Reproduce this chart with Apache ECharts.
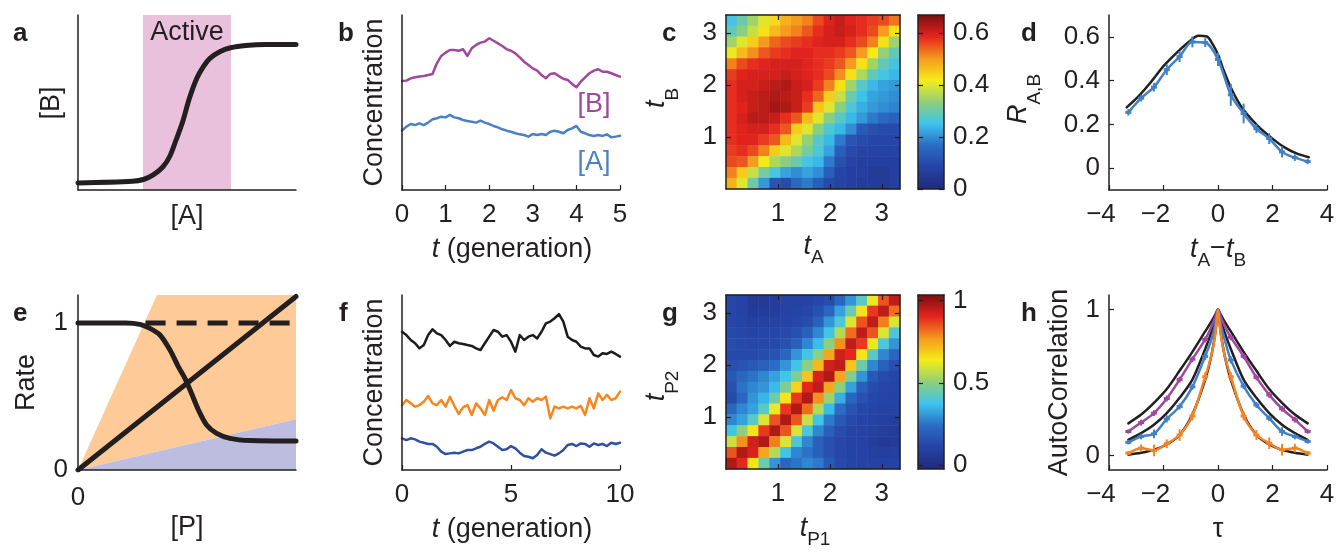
<!DOCTYPE html>
<html>
<head>
<meta charset="utf-8">
<script src="https://cdn.jsdelivr.net/npm/echarts@6/dist/echarts.min.js"></script>
<style>
  html, body { margin: 0; padding: 0; background: #fff; }
  #chart { width: 1338px; height: 554px; }
</style>
</head>
<body>
<div id="chart"></div>
<script>
// ---- panel a: dose response ----
const aX = [0, 0.25, 0.30, 0.345, 0.39, 0.42, 0.45, 0.48, 0.51, 0.545, 0.575, 0.605, 0.65, 0.70, 0.77, 0.86, 1.0];
const aY = [0.04, 0.05, 0.06, 0.086, 0.133, 0.19, 0.286, 0.39, 0.52, 0.638, 0.705, 0.752, 0.79, 0.813, 0.826, 0.832, 0.832];
const activeRange = [0.298, 0.702];

// ---- panel b: traces of A and B ----
const bT = [0,0.1,0.2,0.3,0.4,0.5,0.6,0.7,0.8,0.9,1,1.1,1.2,1.3,1.4,1.5,1.6,1.7,1.8,1.9,2,2.1,2.2,2.3,2.4,2.5,2.6,2.7,2.8,2.9,3,3.1,3.2,3.3,3.4,3.5,3.6,3.7,3.8,3.9,4,4.1,4.2,4.3,4.4,4.5,4.6,4.7,4.8,4.9,5];
const bB = [6.23,6.25,6.38,6.44,6.48,6.51,6.57,6.63,7.24,7.66,7.85,8.0,8.0,7.96,8.04,7.66,8.10,8.29,8.42,8.48,8.67,8.53,8.38,8.23,8.04,7.96,7.81,7.58,7.33,7.14,6.95,6.82,6.57,6.38,6.63,6.67,6.51,6.36,6.29,6.06,5.87,6.19,6.44,6.67,6.82,6.90,6.76,6.76,6.67,6.57,6.48];
const bA = [3.39,3.62,3.77,3.71,3.81,3.71,3.85,4.04,4.10,4.19,4.15,4.29,4.15,4.10,4.0,3.94,3.90,3.85,3.96,3.85,3.77,3.66,3.58,3.47,3.39,3.33,3.24,3.18,3.14,3.05,3.20,3.14,3.20,3.14,3.33,3.39,3.33,3.24,3.43,3.52,3.66,3.33,3.24,3.14,3.09,3.14,3.09,3.18,3.01,3.05,3.10];

// ---- panel c: cross-correlation map (rows listed from top to bottom) ----
const cScale = [0, 0.67];
const cTicks = [0, 0.2, 0.4, 0.6];
const cRows = [
  [0.26,0.30,0.35,0.40,0.44,0.48,0.50,0.52,0.56,0.59,0.61,0.59,0.58,0.57,0.56,0.53],
  [0.29,0.33,0.38,0.43,0.47,0.50,0.52,0.55,0.58,0.60,0.61,0.60,0.58,0.56,0.50,0.43],
  [0.35,0.40,0.45,0.50,0.54,0.56,0.57,0.58,0.59,0.60,0.60,0.58,0.56,0.52,0.43,0.35],
  [0.41,0.47,0.51,0.55,0.57,0.58,0.59,0.59,0.58,0.58,0.57,0.55,0.50,0.42,0.34,0.29],
  [0.52,0.56,0.58,0.59,0.60,0.60,0.60,0.59,0.58,0.57,0.55,0.50,0.43,0.35,0.29,0.26],
  [0.57,0.59,0.60,0.60,0.60,0.61,0.60,0.59,0.58,0.56,0.51,0.43,0.36,0.29,0.26,0.24],
  [0.58,0.60,0.60,0.61,0.62,0.63,0.61,0.60,0.57,0.52,0.43,0.35,0.28,0.24,0.22,0.21],
  [0.58,0.60,0.61,0.62,0.63,0.62,0.61,0.58,0.54,0.45,0.38,0.30,0.25,0.22,0.21,0.20],
  [0.58,0.59,0.61,0.62,0.64,0.63,0.61,0.57,0.46,0.40,0.33,0.27,0.23,0.21,0.20,0.19],
  [0.58,0.60,0.62,0.62,0.61,0.58,0.55,0.47,0.40,0.33,0.28,0.24,0.21,0.18,0.16,0.15],
  [0.58,0.59,0.60,0.60,0.58,0.55,0.45,0.40,0.33,0.27,0.24,0.20,0.13,0.11,0.10,0.10],
  [0.58,0.59,0.59,0.57,0.55,0.47,0.40,0.34,0.28,0.24,0.18,0.12,0.10,0.09,0.09,0.09],
  [0.57,0.58,0.56,0.52,0.45,0.40,0.36,0.31,0.27,0.22,0.14,0.10,0.08,0.08,0.08,0.08],
  [0.56,0.55,0.50,0.42,0.36,0.33,0.30,0.26,0.24,0.18,0.11,0.08,0.07,0.07,0.07,0.07],
  [0.52,0.45,0.38,0.31,0.26,0.22,0.20,0.22,0.20,0.14,0.09,0.07,0.07,0.06,0.06,0.07],
  [0.48,0.40,0.30,0.21,0.12,0.10,0.16,0.18,0.14,0.10,0.08,0.07,0.06,0.06,0.06,0.07]
];

// ---- panel d: R_A,B vs lag ----
const dBlackX = [-3.35,-2.92,-2.49,-2.0,-1.51,-1.02,-0.72,-0.41,-0.23,0,0.2,0.45,0.7,0.94,1.43,1.92,2.41,2.9,3.33];
const dBlackY = [0.278,0.328,0.389,0.466,0.528,0.582,0.605,0.602,0.574,0.52,0.45,0.374,0.312,0.266,0.197,0.143,0.097,0.066,0.05];
const dX = [-3.29,-2.82,-2.35,-1.88,-1.41,-0.94,-0.47,0,0.47,0.94,1.41,1.88,2.35,2.82,3.29];
const dBlue = [0.255,0.32,0.37,0.45,0.51,0.577,0.574,0.497,0.335,0.25,0.18,0.135,0.074,0.048,0.03];
const dErr = [0.015,0.015,0.02,0.025,0.025,0.025,0.02,0.03,0.05,0.045,0.02,0.025,0.025,0.015,0.012];

// ---- panel e: rates ----
const eOrange = [[0, 0], [0.362, 1.19], [1, 1.19], [1, 0.345]];
const ePurple = [[0, 0], [1, 0.345], [1, 0]];
const eSigX = [0, 0.22, 0.284, 0.33, 0.376, 0.422, 0.46, 0.49, 0.521, 0.552, 0.59, 0.636, 0.697, 0.789, 1.0];
const eSigY = [1.0, 1.0, 0.99, 0.963, 0.918, 0.816, 0.703, 0.625, 0.52, 0.41, 0.306, 0.249, 0.215, 0.2, 0.197];
const eLineX = [0, 1];
const eLineY = [0, 1.18];
const eDashX = [0.31, 1];
const eDashY = [1, 1];

// ---- panel f: three traces ----
const fT = [0,0.2,0.4,0.6,0.8,1,1.2,1.4,1.6,1.8,2,2.2,2.4,2.6,2.8,3,3.2,3.4,3.6,3.8,4,4.2,4.4,4.6,4.8,5,5.2,5.4,5.6,5.8,6,6.2,6.4,6.6,6.8,7,7.2,7.4,7.6,7.8,8,8.2,8.4,8.6,8.8,9,9.2,9.4,9.6,9.8,10];
const fBlack = [7.90,7.71,7.43,7.24,6.95,7.14,7.71,8.04,7.81,7.71,7.43,7.09,7.33,7.24,7.20,7.14,7.09,6.95,6.86,7.24,7.62,8.0,7.90,7.62,7.71,7.33,6.76,7.71,7.43,7.62,7.71,7.52,7.90,8.38,8.48,8.67,8.91,8.48,7.62,7.43,7.33,7.05,6.95,6.95,6.57,6.48,6.67,6.63,6.76,6.63,6.48];
const fOrange = [3.71,4.0,3.81,3.62,3.71,3.90,4.23,3.81,3.71,4.0,3.62,4.19,3.66,3.20,3.58,3.71,3.14,3.81,3.52,3.14,4.0,3.39,4.0,4.15,4.0,4.57,4.10,4.0,3.71,4.10,3.90,4.10,4.0,4.19,2.95,3.62,3.52,3.62,3.52,3.62,3.52,3.66,3.14,4.10,3.52,4.38,4.0,4.29,4.0,4.10,4.48];
const fBlue = [1.81,1.71,1.81,1.75,1.62,1.56,1.49,1.49,1.33,1.05,0.91,0.95,0.99,0.95,1.05,1.14,1.14,1.24,1.33,1.49,1.62,1.52,1.33,1.14,1.18,1.37,1.24,0.99,0.80,0.76,0.67,0.86,1.18,0.99,0.91,0.82,0.95,1.14,1.43,1.49,1.37,1.52,1.49,1.33,1.52,1.43,1.49,1.37,1.56,1.49,1.56];

// ---- panel g: autocorrelation map (rows listed from top to bottom) ----
const gScale = [-0.025, 1.035];
const gTicks = [0, 0.5, 1];
const gRows = [
  [0.12,0.10,0.06,0.06,0.08,0.10,0.10,0.10,0.12,0.14,0.22,0.30,0.42,0.62,0.85,0.95],
  [0.12,0.10,0.07,0.07,0.08,0.10,0.11,0.12,0.15,0.22,0.32,0.45,0.65,0.88,0.95,0.82],
  [0.12,0.11,0.09,0.09,0.10,0.11,0.12,0.14,0.20,0.30,0.40,0.60,0.85,0.95,0.80,0.60],
  [0.13,0.12,0.11,0.11,0.12,0.13,0.15,0.20,0.28,0.38,0.55,0.82,0.95,0.85,0.60,0.40],
  [0.14,0.13,0.12,0.12,0.13,0.15,0.20,0.28,0.36,0.50,0.78,0.95,0.88,0.62,0.40,0.30],
  [0.13,0.13,0.13,0.14,0.16,0.22,0.30,0.38,0.50,0.75,0.93,0.90,0.65,0.42,0.28,0.22],
  [0.15,0.16,0.18,0.20,0.24,0.30,0.38,0.50,0.72,0.93,0.95,0.70,0.45,0.28,0.20,0.15],
  [0.18,0.22,0.25,0.28,0.32,0.38,0.48,0.70,0.92,0.97,0.75,0.48,0.30,0.18,0.14,0.12],
  [0.15,0.25,0.28,0.30,0.36,0.48,0.68,0.90,0.95,0.75,0.50,0.32,0.20,0.14,0.12,0.11],
  [0.13,0.22,0.30,0.35,0.45,0.65,0.88,0.97,0.78,0.52,0.34,0.22,0.15,0.12,0.11,0.11],
  [0.22,0.28,0.32,0.42,0.62,0.88,0.97,0.82,0.55,0.36,0.24,0.16,0.12,0.11,0.10,0.10],
  [0.28,0.32,0.42,0.60,0.85,0.97,0.85,0.58,0.38,0.26,0.18,0.13,0.11,0.10,0.09,0.08],
  [0.38,0.50,0.65,0.88,0.97,0.85,0.60,0.40,0.28,0.20,0.14,0.11,0.10,0.09,0.08,0.07],
  [0.58,0.78,0.93,0.97,0.80,0.60,0.40,0.28,0.20,0.15,0.12,0.10,0.10,0.08,0.06,0.07],
  [0.85,0.97,0.92,0.75,0.55,0.38,0.28,0.25,0.20,0.15,0.12,0.10,0.10,0.09,0.08,0.09],
  [0.97,0.90,0.65,0.45,0.30,0.22,0.25,0.28,0.26,0.18,0.13,0.11,0.10,0.10,0.10,0.10]
];
const mapTicks = [1, 2, 3];
const mapMax = 3.35;

// ---- panel h: autocorrelations ----
const hX = [-3.29,-2.82,-2.35,-1.88,-1.41,-0.94,-0.47,-0.25,-0.1,0,0.1,0.25,0.47,0.94,1.41,1.88,2.35,2.82,3.29];
const hBlackSlow = [0.22,0.28,0.36,0.455,0.58,0.71,0.85,0.915,0.965,1,0.965,0.915,0.85,0.71,0.58,0.455,0.36,0.28,0.22];
const hBlackMid = [0.107,0.153,0.21,0.29,0.395,0.52,0.73,0.84,0.93,1,0.93,0.84,0.73,0.52,0.395,0.29,0.21,0.153,0.107];
const hBlackFast = [0.005,0.018,0.038,0.075,0.14,0.28,0.52,0.68,0.84,1,0.84,0.68,0.52,0.28,0.14,0.075,0.038,0.018,0.005];
const hMagenta = [0.164,0.225,0.29,0.39,0.52,0.66,0.795,0.88,0.95,1,0.95,0.885,0.81,0.68,0.535,0.415,0.32,0.245,0.164];
const hBlue = [0.09,0.13,0.148,0.25,0.335,0.47,0.68,0.79,0.9,1,0.9,0.79,0.655,0.475,0.346,0.255,0.164,0.13,0.096];
const hOrange = [0.016,0.05,0.034,0.08,0.14,0.27,0.54,0.68,0.83,1,0.83,0.68,0.54,0.27,0.14,0.084,0.039,0.05,0.016];
const hMagErr = [0.015,0.02,0.02,0.02,0.02,0.02,0.02,null,null,null,null,null,0.02,0.02,0.02,0.02,0.02,0.02,0.015];
const hBlueErr = [0.015,0.02,0.03,0.025,0.02,0.02,0.025,null,null,null,null,null,0.025,0.02,0.02,0.02,0.03,0.02,0.015];
const hOrangeErr = [0.015,0.025,0.04,0.03,0.04,0.03,0.03,null,null,null,null,null,0.03,0.03,0.035,0.04,0.04,0.03,0.015];

// ---- styling ----
const INK = '#231f20';
const FONT = '"Liberation Sans", Arial, Helvetica, sans-serif';
const TICK_FS = 26, TITLE_FS = 27, SUB_FS = 19;
const PURPLE = '#a0479e', BLUE_A = '#4a80c6', BLUE = '#4281c6', ORANGE = '#f58426', NAVY = '#2f4fa2';
const jet = ['#1f2a7a', '#2543a6', '#2b6cc4', '#3cc4ee', '#8fcf7a', '#f6ec17', '#f59a1e', '#e6241e', '#7a1010'];

const grids = [], xAxes = [], yAxes = [], series = [], texts = [];
const zip = (xs, ys) => xs.map((x, i) => [x, ys[i]]);

function addGrid(left, top, width, height) {
  grids.push({ left, top, width, height, containLabel: false });
  return grids.length - 1;
}
function valueAxis(gridIndex, min, max, o) {
  o = o || {};
  const ax = {
    type: 'value', gridIndex, min, max, z: 5,
    splitLine: { show: false },
    axisLine: { show: true, onZero: false, lineStyle: { color: INK, width: 1.5 } },
    axisTick: { show: !!o.ticks, inside: true, length: 5, lineStyle: { color: INK, width: 1.2 } },
    axisLabel: { show: !!o.labels, margin: o.margin == null ? 10 : o.margin, color: INK, fontSize: TICK_FS, fontFamily: FONT }
  };
  if (o.interval != null) ax.interval = o.interval;
  if (o.position) ax.position = o.position;
  if (Array.isArray(o.ticks)) ax.axisTick.customValues = o.ticks;
  if (Array.isArray(o.labels)) ax.axisLabel.customValues = o.labels;
  if (o.formatter) { ax.axisLabel.formatter = o.formatter; ax.axisLabel.rich = o.rich; }
  return ax;
}
function addX(ax) { xAxes.push(ax); return xAxes.length - 1; }
function addY(ax) { yAxes.push(ax); return yAxes.length - 1; }
function addSeries(s) { series.push(s); return series.length - 1; }

function line(xi, yi, xs, ys, color, width, extra) {
  return Object.assign({
    type: 'line', xAxisIndex: xi, yAxisIndex: yi, data: zip(xs, ys), symbol: 'none', silent: true, z: 3,
    lineStyle: { color, width, cap: 'round', join: 'round' }
  }, extra || {});
}
function errorBars(xi, yi, xs, ys, errs, color) {
  const data = [];
  xs.forEach((x, i) => { if (errs[i] != null) data.push([x, ys[i] - errs[i], ys[i] + errs[i], ys[i]]); });
  return {
    type: 'custom', xAxisIndex: xi, yAxisIndex: yi, data, silent: true, z: 4, encode: { x: 0, y: [1, 2] },
    renderItem: (params, api) => {
      const x = api.value(0);
      const lo = api.coord([x, api.value(1)]), hi = api.coord([x, api.value(2)]), mid = api.coord([x, api.value(3)]);
      return { type: 'group', children: [
        { type: 'line', shape: { x1: lo[0], y1: lo[1], x2: hi[0], y2: hi[1] }, style: { stroke: color, lineWidth: 2 } },
        { type: 'line', shape: { x1: mid[0] - 3, y1: mid[1], x2: mid[0] + 3, y2: mid[1] }, style: { stroke: color, lineWidth: 3 } }
      ] };
    }
  };
}
function region(xi, yi, pts, color) {
  return {
    type: 'custom', xAxisIndex: xi, yAxisIndex: yi, data: [pts[0]], silent: true, z: 1,
    renderItem: (params, api) => ({ type: 'polygon', shape: { points: pts.map(p => api.coord(p)) }, style: { fill: color } })
  };
}
function colorbar(xi, yi, range) {
  return {
    type: 'custom', xAxisIndex: xi, yAxisIndex: yi, data: [[0.5, range[0], range[1]]], silent: true, z: 1,
    encode: { x: 0, y: [1, 2] },
    renderItem: (params, api) => {
      const cs = params.coordSys;
      const top = api.coord([0.5, api.value(2)])[1], bottom = api.coord([0.5, api.value(1)])[1];
      return { type: 'rect', shape: { x: cs.x, y: top, width: cs.width, height: bottom - top },
        style: { fill: new echarts.graphic.LinearGradient(0, 1, 0, 0, jet.map((c, i) => ({ offset: i / (jet.length - 1), color: c }))) } };
    }
  };
}
function heatData(rows) {
  const out = [];
  rows.forEach((row, r) => row.forEach((v, c) => out.push([c, rows.length - 1 - r, v])));
  return out;
}
const minusFmt = v => v < 0 ? '{neg|\u2212' + (-v) + '}' : String(v);
const minusRich = { neg: { fontSize: TICK_FS, fontFamily: FONT, color: INK, padding: [0, 16, 0, 0] } };

// subscript drop is set by the line height of the subscript token
function richStyles(subLine) {
  return {
    i: { fontSize: TITLE_FS, fontFamily: FONT, fontStyle: 'italic', fill: INK, verticalAlign: 'top' },
    n: { fontSize: TITLE_FS, fontFamily: FONT, fill: INK, verticalAlign: 'top' },
    s: { fontSize: SUB_FS, fontFamily: FONT, fill: INK, lineHeight: subLine, verticalAlign: 'bottom' }
  };
}
function text(x, y, str, o) {
  o = o || {};
  texts.push({
    type: 'text', x, y, rotation: o.rot ? Math.PI / 2 : 0, silent: true, z: 10,
    style: {
      text: str, fill: o.color || INK, fontSize: o.size || TITLE_FS, fontFamily: FONT, fontWeight: o.bold ? 'bold' : 'normal',
      align: o.align || 'center', verticalAlign: 'middle', textAlign: o.align || 'center', textVerticalAlign: 'middle',
      rich: o.sub ? richStyles(o.sub) : undefined
    }
  });
}
function mapPanel(top, rows, scale, cbTicks) {
  const g = addGrid(726, top, 174, 174);
  const cells = rows[0].map((_, i) => String(i));
  const cx = addX({ type: 'category', gridIndex: g, data: cells, show: false, position: 'bottom' });
  const cy = addY({ type: 'category', gridIndex: g, data: cells, show: false, position: 'left' });
  addX(valueAxis(g, 0, mapMax, { position: 'bottom', ticks: mapTicks, labels: mapTicks, margin: 12 }));
  addX(valueAxis(g, 0, mapMax, { position: 'top', ticks: mapTicks }));
  addY(valueAxis(g, 0, mapMax, { position: 'left', ticks: mapTicks, labels: mapTicks, margin: 9 }));
  addY(valueAxis(g, 0, mapMax, { position: 'right', ticks: mapTicks }));
  const hi = addSeries({ type: 'heatmap', xAxisIndex: cx, yAxisIndex: cy, data: heatData(rows), silent: true, z: 1 });
  const cb = addGrid(918, top, 26, 174);
  const bx = addX(valueAxis(cb, 0, 1, { position: 'bottom' }));
  addX(valueAxis(cb, 0, 1, { position: 'top' }));
  addY(valueAxis(cb, scale[0], scale[1], { position: 'left', ticks: cbTicks }));
  const by = addY(valueAxis(cb, scale[0], scale[1], { position: 'right', ticks: cbTicks, labels: cbTicks, margin: 9 }));
  addSeries(colorbar(bx, by, scale));
  return hi;
}

// ---- a ----
let g = addGrid(78, 15, 218, 175);
let xi = addX(valueAxis(g, 0, 1)), yi = addY(valueAxis(g, 0, 1));
addSeries(line(xi, yi, aX, aY, INK, 5, {
  smooth: 0.3,
  markArea: {
    silent: true, itemStyle: { color: '#e9c1dc' },
    label: { show: true, position: 'insideTop', distance: 4, formatter: 'Active', color: INK, fontSize: TITLE_FS, fontFamily: FONT },
    data: [[{ xAxis: activeRange[0] }, { xAxis: activeRange[1] }]]
  }
}));

// ---- b ----
g = addGrid(402, 15, 218, 175);
xi = addX(valueAxis(g, 0, 5, { interval: 1, ticks: true, labels: true, margin: 12 }));
yi = addY(valueAxis(g, 0, 10));
addSeries(line(xi, yi, bT, bB, PURPLE, 2.5));
addSeries(line(xi, yi, bT, bA, BLUE_A, 2.5));

// ---- c ----
const heatC = mapPanel(15, cRows, cScale, cTicks);

// ---- d ----
g = addGrid(1109, 15, 218, 175);
xi = addX(valueAxis(g, -4, 4, { interval: 2, ticks: true, labels: true, margin: 12, formatter: minusFmt, rich: minusRich }));
yi = addY(valueAxis(g, -0.1, 0.7, { ticks: cTicks, labels: cTicks, margin: 9 }));
addSeries(line(xi, yi, dBlackX, dBlackY, INK, 2.5, { smooth: 0.3 }));
addSeries(line(xi, yi, dX, dBlue, BLUE, 2.5, { smooth: 0.3, z: 4 }));
addSeries(errorBars(xi, yi, dX, dBlue, dErr, BLUE));

// ---- e ----
g = addGrid(78, 295, 218, 175);
xi = addX(valueAxis(g, 0, 1, { labels: [0], margin: 15 }));
yi = addY(valueAxis(g, 0, 1.19, { labels: [0, 1], margin: 10 }));
addSeries(region(xi, yi, eOrange, '#fdca98'));
addSeries(region(xi, yi, ePurple, '#bdbde0'));
addSeries(line(xi, yi, eSigX, eSigY, INK, 5, { smooth: 0.3 }));
addSeries(line(xi, yi, eLineX, eLineY, INK, 5));
addSeries(line(xi, yi, eDashX, eDashY, INK, 5, { lineStyle: { color: INK, width: 5, type: [20, 11], cap: 'butt' } }));

// ---- f ----
g = addGrid(402, 295, 218, 175);
xi = addX(valueAxis(g, 0, 10, { interval: 5, ticks: true, labels: true, margin: 12 }));
yi = addY(valueAxis(g, 0, 10));
addSeries(line(xi, yi, fT, fBlack, '#1c1c1c', 2.5));
addSeries(line(xi, yi, fT, fOrange, '#f7861f', 2.5));
addSeries(line(xi, yi, fT, fBlue, NAVY, 2.5));

// ---- g ----
const heatG = mapPanel(295, gRows, gScale, gTicks);

// ---- h ----
g = addGrid(1109, 295, 218, 175);
xi = addX(valueAxis(g, -4, 4, { interval: 2, ticks: true, labels: true, margin: 12, formatter: minusFmt, rich: minusRich }));
yi = addY(valueAxis(g, -0.1, 1.1, { ticks: [0, 1], labels: [0, 1], margin: 9 }));
[hBlackSlow, hBlackMid, hBlackFast].forEach(ys => addSeries(line(xi, yi, hX, ys, INK, 2.5, { smooth: 0.3 })));
[[hMagenta, hMagErr, PURPLE], [hBlue, hBlueErr, BLUE], [hOrange, hOrangeErr, ORANGE]].forEach(([ys, errs, c]) => {
  addSeries(line(xi, yi, hX, ys, c, 2.5, { smooth: 0.3, z: 4 }));
  addSeries(errorBars(xi, yi, hX, ys, errs, c));
});

// ---- panel letters and axis titles ----
[['a', 13, 34], ['b', 338, 34], ['c', 662, 34], ['d', 1021, 34],
 ['e', 13, 314], ['f', 339, 314], ['g', 662, 314], ['h', 1021, 314]].forEach(([s, x, y]) =>
  text(x, y, s, { bold: true, size: 26, align: 'left' }));

text(51.5, 103, '[B]', { rot: true });
text(187, 216.5, '[A]');
text(374.5, 102.5, 'Concentration', { rot: true });
text(512, 249.5, '{i|t}{n| (generation)}', { sub: 27 });
text(594, 105, '[B]', { color: PURPLE });
text(594, 162.5, '[A]', { color: BLUE_A });
text(662.5, 98, '{i|t}{s|B}', { rot: true, sub: 40 });
text(813.5, 250, '{i|t}{s|A}', { sub: 35 });
text(1024.5, 99, '{i|R}{s|A,B}', { rot: true, sub: 40 });
text(1218, 253, '{i|t}{s|A}{n|\u2212}{i|t}{s|B}', { sub: 35 });
text(26.5, 382.5, 'Rate', { rot: true });
text(187, 528, '[P]');
text(374.5, 382.5, 'Concentration', { rot: true });
text(512, 529.5, '{i|t}{n| (generation)}', { sub: 27 });
text(662.5, 386, '{i|t}{s|P2}', { rot: true, sub: 40 });
text(815, 532, '{i|t}{s|P1}', { sub: 35 });
text(1059.5, 382.5, 'AutoCorrelation', { rot: true });
text(1218, 529.5, '\u03c4');

const chart = echarts.init(document.getElementById('chart'));
chart.setOption({
  animation: false,
  backgroundColor: '#fff',
  textStyle: { fontFamily: FONT },
  grid: grids,
  xAxis: xAxes,
  yAxis: yAxes,
  visualMap: [
    { type: 'continuous', show: false, seriesIndex: heatC, dimension: 2, min: cScale[0], max: cScale[1], inRange: { color: jet } },
    { type: 'continuous', show: false, seriesIndex: heatG, dimension: 2, min: gScale[0], max: gScale[1], inRange: { color: jet } }
  ],
  series,
  graphic: { elements: texts }
});
</script>
</body>
</html>
